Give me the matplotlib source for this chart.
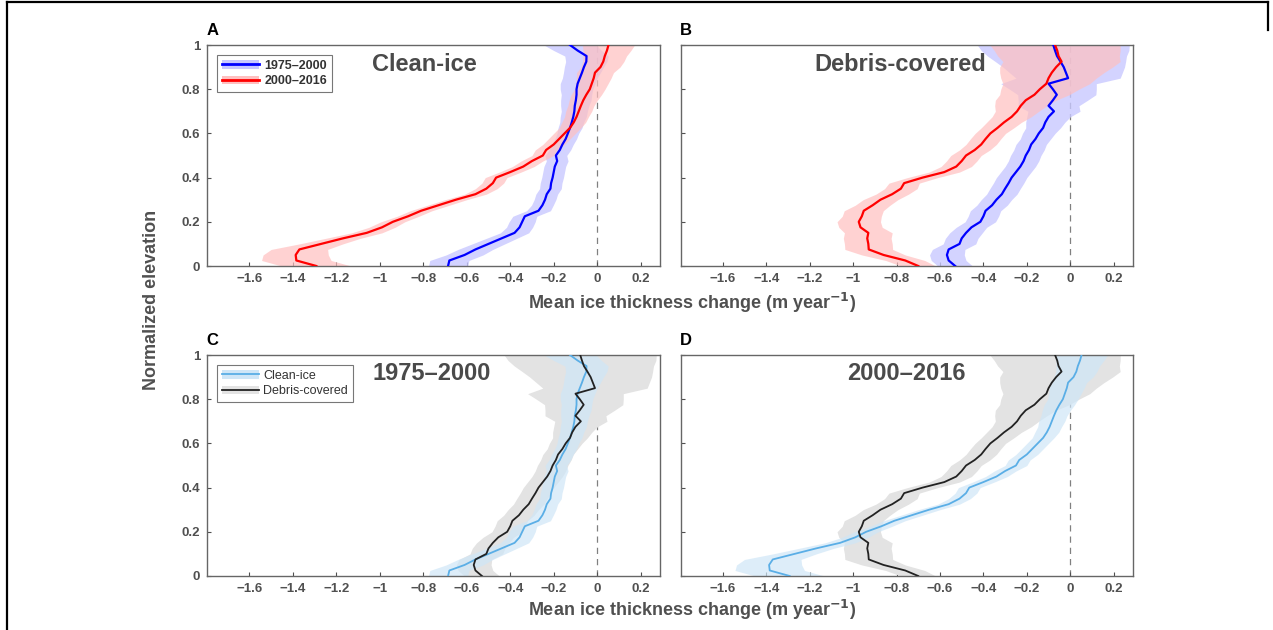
import numpy as np
import matplotlib
matplotlib.use("Agg")
import matplotlib.pyplot as plt
from matplotlib.lines import Line2D
from matplotlib.patches import Patch

plt.rcParams['font.family'] = ['Liberation Sans Narrow', 'Liberation Sans', 'DejaVu Sans']

# normalized elevation bins
elev = np.linspace(0, 1, 41)

# mean ice thickness change (m/yr) along elevation
clean_7500 = [-0.686, -0.68, -0.61, -0.56, -0.50, -0.44, -0.38, -0.357, -0.345, -0.333,
              -0.27, -0.252, -0.24, -0.232, -0.215, -0.212, -0.205, -0.2, -0.195, -0.184,
              -0.19, -0.172, -0.16, -0.145, -0.135, -0.125, -0.117, -0.11, -0.105, -0.103,
              -0.098, -0.095, -0.095, -0.09, -0.08, -0.07, -0.061, -0.05, -0.049, -0.09, -0.125]
clean_0016 = [-1.292, -1.384, -1.387, -1.37, -1.27, -1.17, -1.06, -0.99, -0.94, -0.87,
              -0.81, -0.73, -0.65, -0.56, -0.51, -0.48, -0.465, -0.40, -0.34, -0.30,
              -0.25, -0.235, -0.20, -0.175, -0.15, -0.125, -0.108, -0.095, -0.085, -0.075,
              -0.064, -0.05, -0.034, -0.025, -0.016, -0.01, 0.015, 0.028, 0.035, 0.045, 0.052]
debris_7500 = [-0.53, -0.56, -0.568, -0.56, -0.51, -0.50, -0.48, -0.455, -0.414, -0.40,
               -0.39, -0.36, -0.34, -0.315, -0.30, -0.284, -0.27, -0.25, -0.23, -0.215,
               -0.205, -0.19, -0.18, -0.16, -0.145, -0.125, -0.115, -0.1, -0.075, -0.1,
               -0.08, -0.062, -0.08, -0.1, -0.01, -0.02, -0.03, -0.045, -0.061, -0.07, -0.078]
debris_0016 = [-0.70, -0.76, -0.86, -0.928, -0.93, -0.935, -0.93, -0.966, -0.974, -0.96,
               -0.951, -0.91, -0.874, -0.82, -0.78, -0.765, -0.68, -0.58, -0.525, -0.50,
               -0.48, -0.44, -0.41, -0.39, -0.368, -0.335, -0.305, -0.27, -0.245, -0.228,
               -0.205, -0.165, -0.14, -0.11, -0.10, -0.085, -0.065, -0.04, -0.054, -0.06, -0.07]

# half-width of the shaded uncertainty band
err_clean_7500 = [0.09, 0.09, 0.085, 0.08, 0.075, 0.07, 0.065, 0.06, 0.06, 0.055,
                  0.055, 0.05, 0.05, 0.05, 0.05, 0.05, 0.05, 0.05, 0.05, 0.05,
                  0.05, 0.05, 0.05, 0.05, 0.05, 0.055, 0.055, 0.06, 0.06, 0.065,
                  0.07, 0.07, 0.075, 0.08, 0.08, 0.085, 0.09, 0.095, 0.1, 0.11, 0.12]
err_clean_0016 = [0.16, 0.16, 0.15, 0.13, 0.1, 0.08, 0.07, 0.06, 0.055, 0.05,
                  0.05, 0.05, 0.05, 0.05, 0.05, 0.05, 0.05, 0.05, 0.05, 0.05,
                  0.05, 0.05, 0.05, 0.05, 0.05, 0.05, 0.055, 0.055, 0.06, 0.06,
                  0.065, 0.07, 0.07, 0.075, 0.08, 0.085, 0.09, 0.095, 0.1, 0.11, 0.12]
err_debris_7500 = [0.08, 0.08, 0.08, 0.075, 0.075, 0.075, 0.075, 0.07, 0.07, 0.07,
                   0.07, 0.07, 0.07, 0.07, 0.07, 0.07, 0.07, 0.07, 0.07, 0.07,
                   0.07, 0.07, 0.07, 0.07, 0.075, 0.08, 0.09, 0.1, 0.12, 0.14,
                   0.16, 0.18, 0.2, 0.22, 0.24, 0.26, 0.28, 0.3, 0.32, 0.34, 0.35]
err_debris_0016 = [0.08, 0.09, 0.1, 0.11, 0.11, 0.11, 0.11, 0.1, 0.1, 0.09,
                   0.09, 0.08, 0.08, 0.075, 0.075, 0.07, 0.07, 0.07, 0.07, 0.07,
                   0.07, 0.07, 0.07, 0.07, 0.07, 0.075, 0.08, 0.09, 0.1, 0.12,
                   0.14, 0.16, 0.18, 0.2, 0.22, 0.24, 0.26, 0.27, 0.28, 0.29, 0.3]

xticks = [-1.6, -1.4, -1.2, -1, -0.8, -0.6, -0.4, -0.2, 0, 0.2]
xticklabels = ['\u22121.6', '\u22121.4', '\u22121.2', '\u22121', '\u22120.8', '\u22120.6',
               '\u22120.4', '\u22120.2', '0', '0.2']
yticks = [0, 0.2, 0.4, 0.6, 0.8, 1]
yticklabels = ['0', '0.2', '0.4', '0.6', '0.8', '1']

W, H = 1273, 630
fig = plt.figure(figsize=(12.73, 6.30), dpi=100)

def px_axes(x0, y0, x1, y1):
    return fig.add_axes([x0 / W, 1 - y1 / H, (x1 - x0) / W, (y1 - y0) / H])

axA = px_axes(207, 45, 660, 266)
axB = px_axes(680.5, 45, 1133, 266)
axC = px_axes(207, 355, 660, 576)
axD = px_axes(680.5, 355, 1133, 576)

gray = '#505050'

def style(ax, ylabels):
    ax.set_xlim(-1.795, 0.289)
    ax.set_ylim(0, 1)
    ax.axvline(0, color='#808080', lw=0.9, ls=(0, (5, 4)), zorder=1)
    ax.set_xticks(xticks)
    ax.set_xticklabels(xticklabels)
    ax.set_yticks(yticks)
    ax.set_yticklabels(yticklabels if ylabels else [])
    ax.tick_params(direction='in', length=3, width=0.8, color=gray, labelcolor=gray,
                   labelsize=9.5, pad=5)
    for lab in ax.get_xticklabels() + ax.get_yticklabels():
        lab.set_fontweight('bold')
    for s in ax.spines.values():
        s.set_color('#666666')
        s.set_linewidth(1.0)

def band(ax, vals, err, color, alpha=1.0):
    v = np.array(vals)
    e = np.array(err)
    ax.fill_betweenx(elev, v - e, v + e, color=color, alpha=alpha, lw=0, zorder=2)

def line(ax, vals, color, lw):
    ax.plot(vals, elev, color=color, lw=lw, zorder=3)

# A: clean ice
band(axA, clean_7500, err_clean_7500, '#c8c8ff', 0.8)
line(axA, clean_7500, '#0000ff', 1.6)
band(axA, clean_0016, err_clean_0016, '#ffc0c0', 0.7)
line(axA, clean_0016, '#ff0000', 1.6)
# B: debris covered
band(axB, debris_7500, err_debris_7500, '#c8c8ff', 0.8)
line(axB, debris_7500, '#0000ff', 1.6)
band(axB, debris_0016, err_debris_0016, '#ffc0c0', 0.7)
line(axB, debris_0016, '#ff0000', 1.6)
# C: 1975-2000
band(axC, debris_7500, err_debris_7500, '#e3e3e3')
band(axC, clean_7500, err_clean_7500, '#cfe6f7', 0.7)
line(axC, clean_7500, '#5aaee6', 1.3)
line(axC, debris_7500, '#222222', 1.3)
# D: 2000-2016
band(axD, debris_0016, err_debris_0016, '#e3e3e3')
band(axD, clean_0016, err_clean_0016, '#cfe6f7', 0.7)
line(axD, clean_0016, '#5aaee6', 1.3)
line(axD, debris_0016, '#222222', 1.3)

for ax, lab in [(axA, True), (axB, False), (axC, True), (axD, False)]:
    style(ax, lab)

title_kw = dict(fontsize=17, fontweight='bold', color='#4a4a4a', ha='center', va='center',
                family=['Liberation Sans', 'DejaVu Sans'])
axA.text(0.48, 0.91, 'Clean-ice', transform=axA.transAxes, **title_kw)
axB.text(0.485, 0.91, 'Debris-covered', transform=axB.transAxes, **title_kw)
axC.text(0.497, 0.915, '1975\u20132000', transform=axC.transAxes, **title_kw)
axD.text(0.50, 0.915, '2000\u20132016', transform=axD.transAxes, **title_kw)

for ax, letter in [(axA, 'A'), (axB, 'B'), (axC, 'C'), (axD, 'D')]:
    ax.text(-0.002, 1.03, letter, transform=ax.transAxes, fontsize=12, fontweight='bold',
            color='black', ha='left', va='bottom')

# legends
hA = [(Patch(color='#c8c8ff', lw=0), Line2D([], [], color='#0000ff', lw=2)),
      (Patch(color='#ffc0c0', lw=0), Line2D([], [], color='#ff0000', lw=2))]
legA = axA.legend(hA, ['1975\u20132000', '2000\u20132016'], loc='upper left',
                  bbox_to_anchor=(0.008, 0.985), fancybox=False, edgecolor='#555555',
                  handlelength=3.0, handleheight=0.7, borderpad=0.4, labelspacing=0.3,
                  handletextpad=0.4, prop={'family': ['Liberation Sans', 'DejaVu Sans'],
                                           'weight': 'bold', 'size': 9})
legA.get_frame().set_linewidth(0.8)
for t in legA.get_texts():
    t.set_color('#333333')

hC = [(Patch(color='#cfe6f7', lw=0), Line2D([], [], color='#5aaee6', lw=1.3)),
      (Patch(color='#e3e3e3', lw=0), Line2D([], [], color='#222222', lw=1.3))]
legC = axC.legend(hC, ['Clean-ice', 'Debris-covered'], loc='upper left',
                  bbox_to_anchor=(0.008, 0.985), fancybox=False, edgecolor='#555555',
                  handlelength=3.0, handleheight=0.7, borderpad=0.4, labelspacing=0.3,
                  handletextpad=0.3, prop={'family': ['Liberation Sans', 'DejaVu Sans'],
                                           'size': 9})
legC.get_frame().set_linewidth(0.8)
for t in legC.get_texts():
    t.set_color('#333333')

# shared axis labels
fig.text(152 / W, 1 - 300 / H, 'Normalized elevation', rotation=90, ha='center', va='center',
         fontsize=13, fontweight='bold', color=gray, family=['Liberation Sans', 'DejaVu Sans'])
for yy in (303, 610):
    fig.text(692 / W, 1 - yy / H, 'Mean ice thickness change (m year$^{\\mathbf{\u22121}}$)',
             ha='center', va='center', fontsize=13, fontweight='bold', color=gray)

# outer frame lines
fig.add_artist(Line2D([6.5 / W, 6.5 / W], [0, 1 - 2 / H], color='black', lw=1.6))
fig.add_artist(Line2D([6.5 / W, 1268 / W], [1 - 2 / H, 1 - 2 / H], color='black', lw=1.6))
fig.add_artist(Line2D([1268 / W, 1268 / W], [1 - 2 / H, 1 - 30 / H], color='black', lw=1.6))

fig.savefig('out.png', dpi=100)
